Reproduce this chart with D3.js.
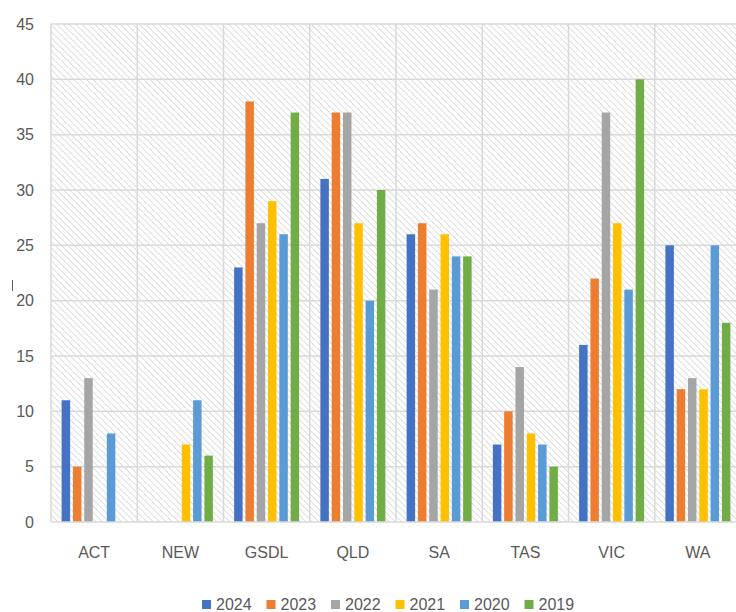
<!DOCTYPE html>
<html>
<head>
<meta charset="utf-8">
<script src="https://cdn.jsdelivr.net/npm/d3@7"></script>
<style>
	body { margin: 0; background: #fff; }
	text { font-family: "Liberation Sans Narrow", "Arial Narrow", "Liberation Sans", sans-serif; fill: #595959; }
</style>
</head>
<body>
<div id="content"></div>
<script>
var regions = ["ACT", "NEW", "GSDL", "QLD", "SA", "TAS", "VIC", "WA"];
var years = ["2024", "2023", "2022", "2021", "2020", "2019"];
var colors = ["#4472C4", "#ED7D31", "#A5A5A5", "#FFC000", "#5B9BD5", "#70AD47"];

// one array per year, in region order (null = no bar)
var v2024 = [11, null, 23, 31, 26, 7, 16, 25];
var v2023 = [5, null, 38, 37, 27, 10, 22, 12];
var v2022 = [13, null, 27, 37, 21, 14, 37, 13];
var v2021 = [null, 7, 29, 27, 26, 8, 27, 12];
var v2020 = [8, 11, 26, 20, 24, 7, 21, 25];
var v2019 = [null, 6, 37, 30, 24, 5, 40, 18];
var yTicks = [0, 5, 10, 15, 20, 25, 30, 35, 40, 45];

var series = [v2024, v2023, v2022, v2021, v2020, v2019];

var W = 736, H = 612;
var plotL = 51, plotR = 741, plotT = 24, plotB = 522;

var svg = d3.select("#content").append("svg")
	.attr("width", W).attr("height", H);

var defs = svg.append("defs");
var pat = defs.append("pattern")
	.attr("id", "hatch")
	.attr("patternUnits", "userSpaceOnUse")
	.attr("width", 4.5).attr("height", 4.5)
	.attr("patternTransform", "rotate(-45)");
pat.append("rect").attr("width", 4.5).attr("height", 4.5).attr("fill", "#fff");
pat.append("line")
	.attr("x1", 0).attr("y1", 0).attr("x2", 0).attr("y2", 4.5)
	.attr("stroke", "#d6d6d6").attr("stroke-width", 1.6);

var x0 = d3.scaleBand().domain(regions).range([plotL, plotR]);
var x1 = d3.scaleBand().domain(years).range([0, x0.bandwidth()])
	.paddingInner(0.25).paddingOuter(0.94);
var y = d3.scaleLinear().domain([0, 45]).range([plotB, plotT]);

// background hatch
svg.append("rect")
	.attr("x", plotL).attr("y", plotT)
	.attr("width", plotR - plotL).attr("height", plotB - plotT)
	.attr("fill", "url(#hatch)");

// horizontal gridlines
svg.append("g").selectAll("line").data(yTicks.slice(1))
	.enter().append("line")
	.attr("x1", plotL).attr("x2", plotR)
	.attr("y1", function (d) { return y(d); })
	.attr("y2", function (d) { return y(d); })
	.attr("stroke", "#d9d9d9").attr("stroke-width", 1.5);

// vertical gridlines
svg.append("g").selectAll("line").data(regions)
	.enter().append("line")
	.attr("x1", function (d) { return x0(d); })
	.attr("x2", function (d) { return x0(d); })
	.attr("y1", plotT).attr("y2", plotB)
	.attr("stroke", "#d9d9d9").attr("stroke-width", 1.5);

// bars
var groups = svg.append("g").selectAll("g").data(series)
	.enter().append("g")
	.attr("fill", function (d, i) { return colors[i]; });

groups.each(function (vals, si) {
	d3.select(this).selectAll("rect")
		.data(vals.map(function (v, ri) { return { region: regions[ri], value: v }; })
			.filter(function (d) { return d.value != null; }))
		.enter().append("rect")
		.attr("x", function (d) { return x0(d.region) + x1(years[si]); })
		.attr("width", x1.bandwidth())
		.attr("y", function (d) { return y(d.value); })
		.attr("height", function (d) { return y(0) - y(d.value); });
});

// x axis line
svg.append("line")
	.attr("x1", plotL).attr("x2", plotR)
	.attr("y1", y(0)).attr("y2", y(0))
	.attr("stroke", "#d9d9d9").attr("stroke-width", 1.5);

// y axis labels
var yAxis = d3.axisLeft(y).tickValues(yTicks).tickSize(0).tickPadding(17);
var gy = svg.append("g").attr("transform", "translate(" + plotL + ",0)").call(yAxis);
gy.select(".domain").remove();
gy.selectAll("text").style("font-size", "16px").attr("fill", "#595959");
gy.attr("font-family", null);

// x axis labels
var xAxis = d3.axisBottom(x0).tickSize(0).tickPadding(25);
var gx = svg.append("g").attr("transform", "translate(0," + y(0) + ")").call(xAxis);
gx.select(".domain").remove();
gx.selectAll("text").style("font-size", "16px").attr("fill", "#595959");
gx.attr("font-family", null);

// remnant of the cut-off axis title
svg.append("line")
	.attr("x1", 12.5).attr("x2", 12.5).attr("y1", 280).attr("y2", 291)
	.attr("stroke", "#595959").attr("stroke-width", 1);

// legend
var legend = svg.append("g").selectAll("g").data(years)
	.enter().append("g")
	.attr("transform", function (d, i) { return "translate(" + (202 + i * 64.5) + ",599)"; });
legend.append("rect")
	.attr("width", 9).attr("height", 9).attr("y", 1)
	.attr("fill", function (d, i) { return colors[i]; });
legend.append("text")
	.attr("x", 14).attr("y", 11)
	.style("font-size", "16px")
	.text(function (d) { return d; });
</script>
</body>
</html>
